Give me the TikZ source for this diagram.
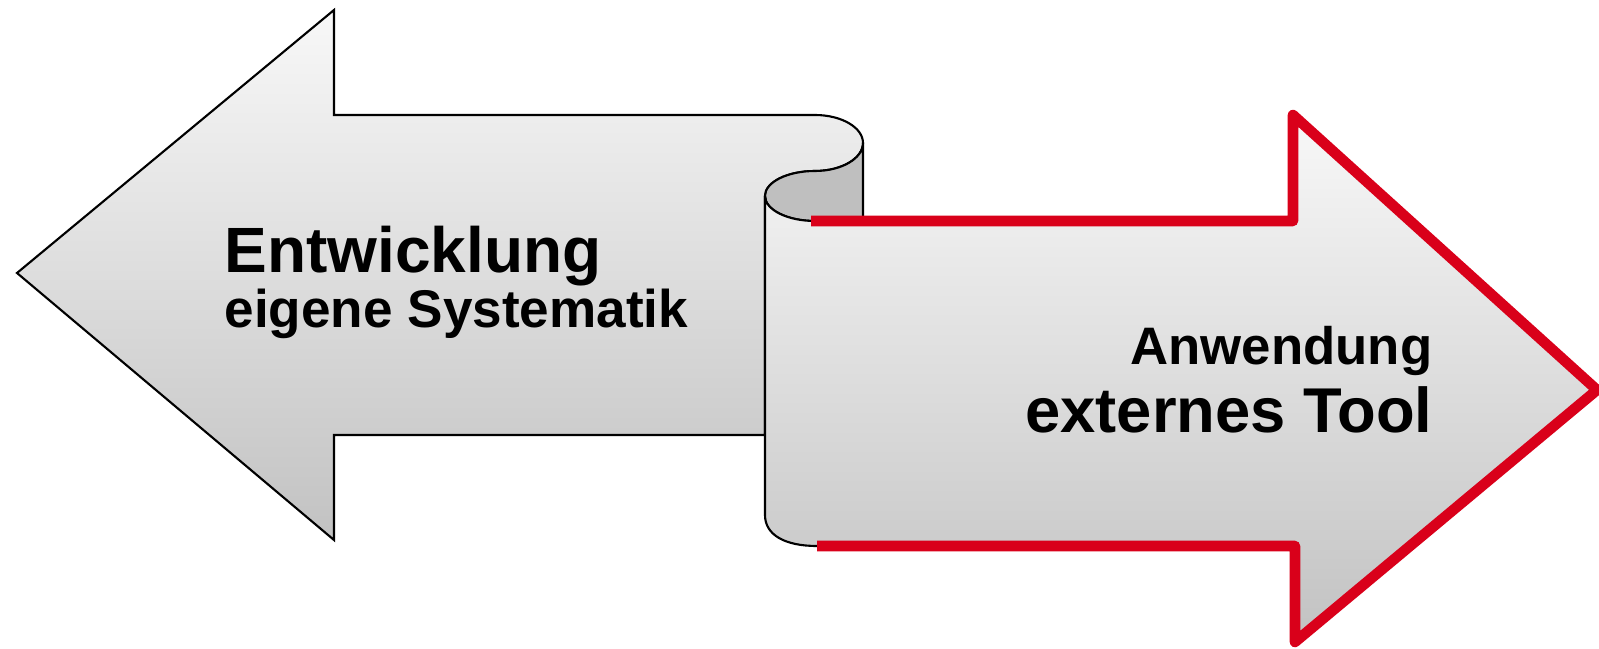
\documentclass[tikz,border=0pt]{standalone}
\usepackage{fontspec}
\setmainfont{Liberation Sans}
\definecolor{sheettop}{HTML}{F8F8F8}
\definecolor{sheetbot}{HTML}{C2C2C2}
\definecolor{curlgray}{HTML}{BFBFBF}
\definecolor{arrowred}{HTML}{D9001A}
\begin{document}
\begin{tikzpicture}[x=0.01cm, y=-0.01cm,
    sheet/.style={top color=sheettop, bottom color=sheetbot},
    edge/.style={draw=black, line width=0.6pt},
    redline/.style={draw=arrowred, line width=3pt, line join=round},
    label/.style={inner sep=0pt, font=\bfseries}]
            \useasboundingbox (0,0) rectangle (1599,649);
            % Arrow to the left
            \path[sheet, edge] (17,273) -- (334,10) -- (334,115) -- (815,115)
                arc[start angle=-90, end angle=90, x radius=48, y radius=28]
                arc[start angle=-90, end angle=-180, x radius=50, y radius=25]
                -- (765,435) -- (334,435) -- (334,540) -- cycle;
            % Inside of the roll
            \path[fill=curlgray, edge] (863,143)
                arc[start angle=0, end angle=90, x radius=48, y radius=28]
                arc[start angle=-90, end angle=-270, x radius=50, y radius=25]
                -- (863,221) -- cycle;
            % Arrow to the right
            \path[sheet] (815,221) -- (1293,221) -- (1293,115) -- (1597,390)
                -- (1295,642) -- (1295,546) -- (817,546)
                .. controls (785,546) and (765,535) .. (765,515) -- (765,196)
                arc[start angle=180, end angle=90, x radius=50, y radius=25];
            \draw[edge] (817,546) .. controls (785,546) and (765,535) .. (765,515)
                -- (765,196) arc[start angle=180, end angle=90, x radius=50, y radius=25];
            \draw[redline] (811,221) -- (1293,221) -- (1293,115) -- (1597,390)
                -- (1295,642) -- (1295,546) -- (817,546);
            % Texts
            \node[label, anchor=base west, font=\bfseries\fontsize{18.2}{20}\selectfont] (entw) at (224,273) {Entwicklung};
            \node[label, anchor=base west, font=\bfseries\fontsize{15.1}{17}\selectfont] (syst) at (224,328) {eigene Systematik};
            \node[label, anchor=base east, font=\bfseries\fontsize{15}{17}\selectfont] (anw) at (1433,365) {Anwendung};
            \node[label, anchor=base east, font=\bfseries\fontsize{18}{20}\selectfont] (tool) at (1433,433) {externes Tool};
        \end{tikzpicture}
\end{document}
